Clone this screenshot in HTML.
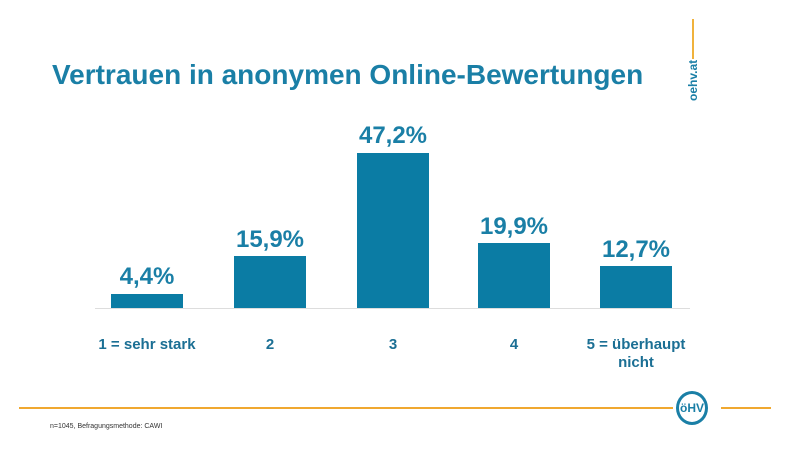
<!DOCTYPE html>
<html><head><meta charset="utf-8"><style>
body{margin:0;width:800px;height:451px;background:#fff;position:relative;overflow:hidden;font-family:"Liberation Sans",sans-serif}
.a{position:absolute}
.t{left:52px;top:59px;font-size:28px;font-weight:bold;color:#1a7fa6;white-space:nowrap}
.bar{position:absolute;background:#0b7ca4;width:72px}
.v{position:absolute;width:120px;text-align:center;font-size:24px;font-weight:bold;color:#1a7fa6}
.c{position:absolute;width:140px;text-align:center;font-size:15px;font-weight:bold;color:#1b6f94;top:336px;line-height:18px}
</style></head><body>
<div class="a t">Vertrauen in anonymen Online-Bewertungen</div>
<div class="a" style="left:692px;top:19px;width:2px;height:40px;background:#f0b23c"></div>
<div class="a" style="transform:rotate(-90deg);transform-origin:center;font-size:12px;font-weight:bold;color:#1a7fa6;width:40px;text-align:center;left:673px;top:74px">oehv.at</div>
<div class="a" style="left:95px;top:308px;width:595px;height:1px;background:#ddd"></div>
<div class="bar" style="left:111px;top:294px;height:14px"></div>
<div class="bar" style="left:234px;top:256px;height:52px"></div>
<div class="bar" style="left:357px;top:153px;height:155px"></div>
<div class="bar" style="left:478px;top:243px;height:65px"></div>
<div class="bar" style="left:600px;top:266px;height:42px"></div>
<div class="v" style="left:87px;top:263px">4,4%</div>
<div class="v" style="left:210px;top:226px">15,9%</div>
<div class="v" style="left:333px;top:122px">47,2%</div>
<div class="v" style="left:454px;top:213px">19,9%</div>
<div class="v" style="left:576px;top:236px">12,7%</div>
<div class="c" style="left:77px">1 = sehr stark</div>
<div class="c" style="left:200px">2</div>
<div class="c" style="left:323px">3</div>
<div class="c" style="left:444px">4</div>
<div class="c" style="left:566px">5 = überhaupt<br>nicht</div>
<div class="a" style="left:19px;top:407px;width:654px;height:2px;background:#f0a830"></div>
<div class="a" style="left:721px;top:407px;width:50px;height:2px;background:#f0a830"></div>
<div class="a" style="left:676px;top:391px;width:26px;height:28px;border:3px solid #1a7fa6;border-radius:50%;font-size:12px;font-weight:bold;color:#1a7fa6;text-align:center;line-height:28px">öHV</div>
<div class="a" style="left:50px;top:423px;font-size:7px;color:#333">n=1045, Befragungsmethode: CAWI</div>
</body></html>
